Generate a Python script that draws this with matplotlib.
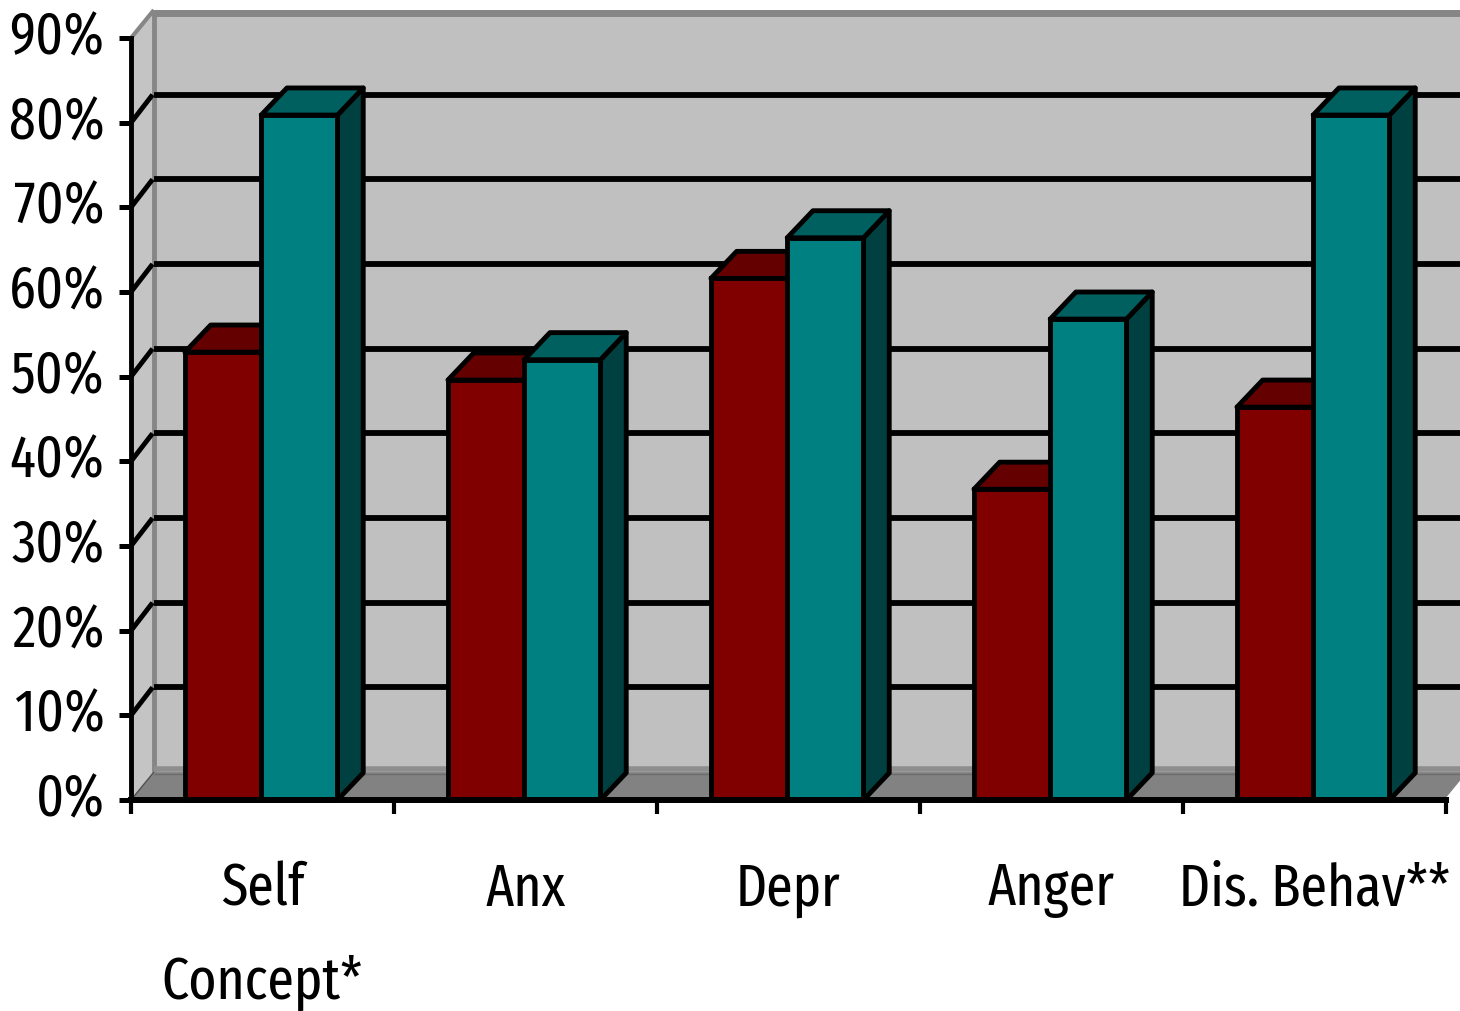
#!/usr/bin/env python3
# -*- coding: utf-8 -*-

import logging
import matplotlib
matplotlib.use("Agg")
import matplotlib.pyplot as plt
from matplotlib.patches import Polygon, Rectangle
from matplotlib.transforms import ScaledTranslation

logging.getLogger("matplotlib.font_manager").setLevel(logging.ERROR)

categories = ["Self\nConcept*", "Anx", "Depr", "Anger", "Dis. Behav**"]
series_red = [52.9, 49.6, 61.6, 36.7, 46.4]
series_teal = [80.9, 52.0, 66.4, 56.8, 80.9]
yticks = [0, 10, 20, 30, 40, 50, 60, 70, 80, 90]
ytick_labels = ["0%", "10%", "20%", "30%", "40%", "50%", "60%", "70%", "80%", "90%"]

W, H = 1460, 1011
WALL_DX, WALL_DY = 0.087, 3.3
BAR_DX, BAR_DY = 0.098, 3.2
GAP, BAR_W = 0.205, 0.29

plt.rcParams["font.family"] = ["Fira Sans Extra Condensed", "Liberation Sans Narrow", "Liberation Sans", "DejaVu Sans"]

fig = plt.figure(figsize=(W / 100, H / 100), dpi=100)
ax = fig.add_axes([131 / W, 1 - 800 / H, (1446 - 131) / W, (800 - 38) / H])
ax.set_xlim(0, 5)
ax.set_ylim(0, 90)
ax.patch.set_visible(False)


def poly(pts, color, z, edge="none", lw=0):
    ax.add_patch(Polygon(pts, closed=True, facecolor=color, edgecolor=edge, linewidth=lw,
                         joinstyle="round", clip_on=False, zorder=z))


def line(xs, ys, color, lw, z):
    ax.plot(xs, ys, color=color, lw=lw, clip_on=False, zorder=z, solid_capstyle="butt",
            scalex=False, scaley=False)


# walls and floor
ax.add_patch(Rectangle((WALL_DX, WALL_DY), 5, 90, facecolor="#c0c0c0", clip_on=False, zorder=1))
poly([(0, 0), (WALL_DX, WALL_DY), (WALL_DX, 90 + WALL_DY), (0, 90)], "#c4c4c4", 1)
poly([(0, 0), (5, 0), (5 + WALL_DX, WALL_DY), (WALL_DX, WALL_DY)], "#828282", 2)
line([WALL_DX, 5 + WALL_DX], [90 + WALL_DY - 0.3] * 2, "#868686", 5, 2)
line([WALL_DX] * 2, [WALL_DY, 90 + WALL_DY], "#868686", 3.5, 2)
line([0, WALL_DX], [90, 90 + WALL_DY], "#868686", 3, 2)
line([WALL_DX, 5 + WALL_DX], [WALL_DY + 0.4] * 2, "#8e8e8e", 4, 2)
line([WALL_DX, 5 + WALL_DX], [WALL_DY - 0.2] * 2, "#6c6c6c", 1, 2)
line([5, 5 + WALL_DX], [0, WALL_DY], "white", 2, 2)
line([0, WALL_DX], [0, WALL_DY], "#505050", 1, 2)

# gridlines on back wall, with the short diagonal on the side wall
for v in yticks[1:-1]:
    line([WALL_DX, 5 + WALL_DX], [v + WALL_DY] * 2, "black", 4.2, 3)
    line([0, WALL_DX - 0.005], [v, v + WALL_DY], "black", 3.5, 3)


def bar3d(left, value, front, top, side, z):
    right = left + BAR_W
    poly([(right, 0), (right + BAR_DX, BAR_DY), (right + BAR_DX, value + BAR_DY), (right, value)],
         side, z, "black", 3.5)
    poly([(left, value), (right, value), (right + BAR_DX, value + BAR_DY), (left + BAR_DX, value + BAR_DY)],
         top, z, "black", 3.5)
    ax.bar(left, value, BAR_W, align="edge", color=front, edgecolor="black", linewidth=3.5,
           clip_on=False, zorder=z)


for i in range(len(categories)):
    bar3d(i + GAP, series_red[i], "#800000", "#640000", "#400000", 4 + i * 2)
    bar3d(i + GAP + BAR_W, series_teal[i], "#008080", "#006060", "#004040", 5 + i * 2)

# axes
for name in ["top", "right"]:
    ax.spines[name].set_visible(False)
ax.spines["left"].set_linewidth(3.5)
ax.spines["bottom"].set_linewidth(4.3)
ax.spines["left"].set_zorder(20)
ax.spines["bottom"].set_zorder(20)

ax.set_yticks(yticks)
ax.set_yticklabels(ytick_labels)
ax.set_xticks([0, 1, 2, 3, 4, 5])
ax.set_xticklabels([])
ax.tick_params(axis="y", length=9, width=3.6, pad=10, labelsize=42)
ax.tick_params(axis="x", length=10, width=3, pad=0)

ax.set_xticks([i + 0.5 for i in range(len(categories))], minor=True)
ax.set_xticklabels(categories, minor=True)
ax.tick_params(axis="x", which="minor", length=0, pad=44, labelsize=42)
for t in ax.get_xticklabels(minor=True):
    t.set_linespacing(1.8)
    t.set_verticalalignment("top")

# the percent labels sit a little above their ticks
nudge = ScaledTranslation(0, 6 / 100, fig.dpi_scale_trans)
for t in ax.get_yticklabels():
    t.set_transform(t.get_transform() + nudge)

fig.savefig("out.png", dpi=100, facecolor="white")
plt.close()
